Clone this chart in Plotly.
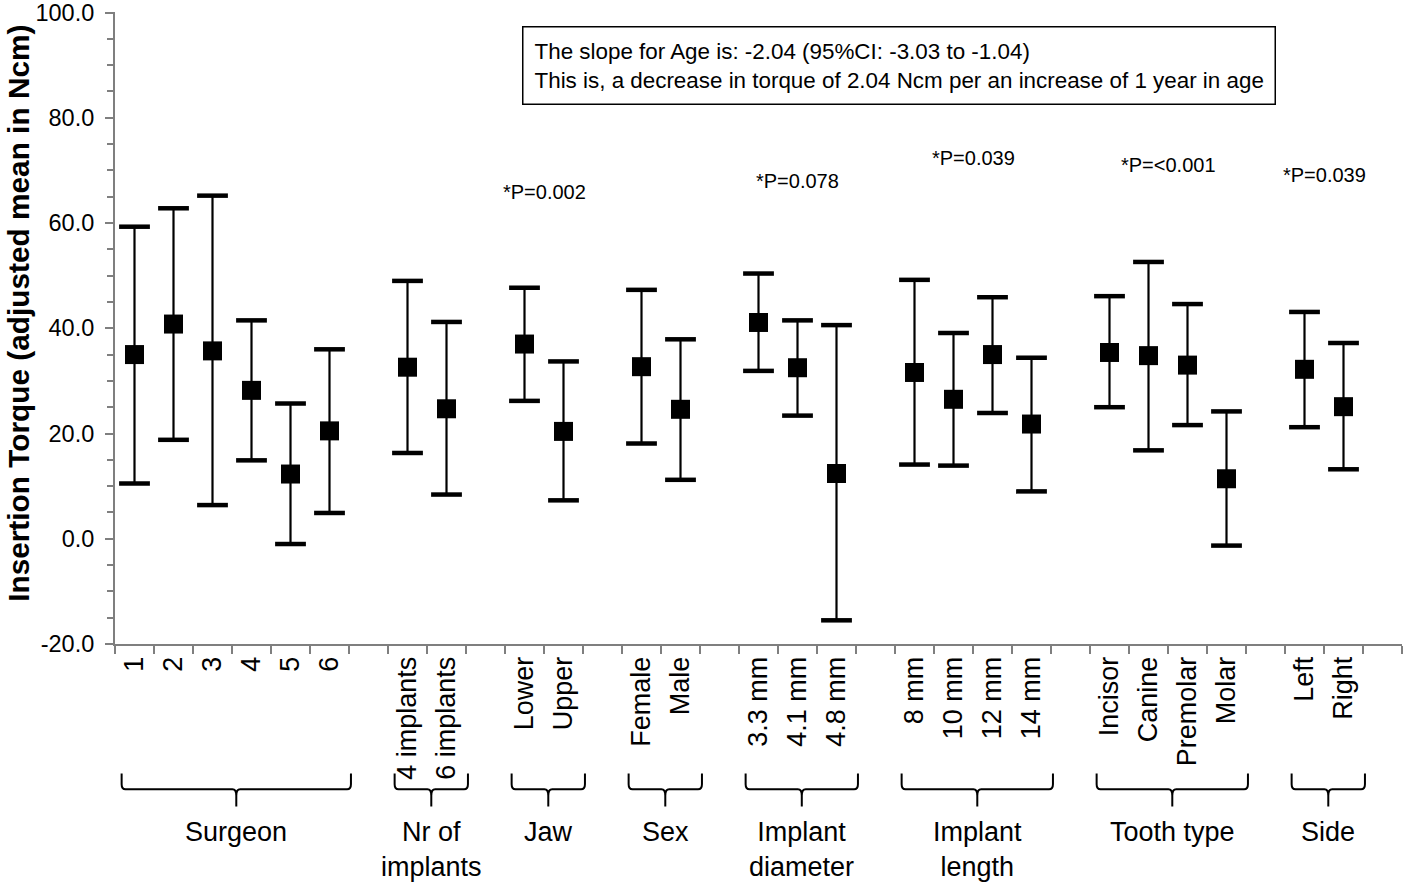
import plotly.graph_objects as go

# --- data ---
groups = ["Surgeon", "Nr of<br>implants", "Jaw", "Sex", "Implant<br>diameter",
          "Implant<br>length", "Tooth type", "Side"]
group_sizes = [6, 2, 2, 2, 3, 4, 4, 2]

labels = ["1", "2", "3", "4", "5", "6",
          "4 implants", "6 implants",
          "Lower", "Upper",
          "Female", "Male",
          "3.3 mm", "4.1 mm", "4.8 mm",
          "8 mm", "10 mm", "12 mm", "14 mm",
          "Incisor", "Canine", "Premolar", "Molar",
          "Left", "Right"]
means = [35.0, 40.8, 35.7, 28.2, 12.3, 20.5,
         32.6, 24.7,
         37.0, 20.4,
         32.7, 24.6,
         41.1, 32.5, 12.4,
         31.6, 26.5, 35.0, 21.8,
         35.4, 34.8, 33.0, 11.4,
         32.2, 25.1]
ci_low = [10.5, 18.8, 6.4, 14.9, -1.0, 4.9,
          16.3, 8.4,
          26.2, 7.3,
          18.1, 11.2,
          31.9, 23.4, -15.5,
          14.1, 13.9, 23.9, 9.0,
          25.0, 16.8, 21.6, -1.3,
          21.2, 13.2]
ci_high = [59.3, 62.8, 65.2, 41.5, 25.7, 36.0,
           49.0, 41.2,
           47.7, 33.7,
           47.3, 37.9,
           50.4, 41.5, 40.6,
           49.2, 39.1, 45.9, 34.4,
           46.1, 52.6, 44.6, 24.2,
           43.1, 37.2]

y_ticks = [-20, 0, 20, 40, 60, 80, 100]
y_ticktext = ["-20.0", "0.0", "20.0", "40.0", "60.0", "80.0", "100.0"]

p_groups = ["Jaw", "Implant<br>diameter", "Implant<br>length", "Tooth type", "Side"]
p_text = ["*P=0.002", "*P=0.078", "*P=0.039", "*P=<0.001", "*P=0.039"]
p_y = [65.9, 68.0, 72.3, 71.0, 69.1]

note = ("The slope for Age is: -2.04 (95%CI: -3.03 to -1.04)<br>"
        "This is, a decrease in torque of 2.04 Ncm per an increase of 1 year in age")

FONT = "Liberation Sans, Arial, sans-serif"
AXIS_GREY = "#7f7f7f"

# x slots: one empty slot between groups
xpos, group_span = [], {}
slot = 0
for g, n in zip(groups, group_sizes):
    xs = list(range(slot, slot + n))
    xpos.extend(xs)
    group_span[g] = (xs[0], xs[-1])
    slot += n + 1
n_slots = slot - 1

err_up = [h - m for h, m in zip(ci_high, means)]
err_dn = [m - l for m, l in zip(means, ci_low)]

fig = go.Figure()
# whiskers
fig.add_trace(go.Scatter(
    x=xpos, y=means, mode="markers",
    marker=dict(size=1, color="rgba(0,0,0,0)"),
    error_y=dict(type="data", symmetric=False, array=err_up, arrayminus=err_dn,
                 color="black", thickness=2.2, width=0),
    showlegend=False, cliponaxis=False,
))
# thick caps
fig.add_trace(go.Scatter(
    x=xpos + xpos, y=ci_high + ci_low, mode="markers",
    marker=dict(symbol="line-ew", size=22, line=dict(color="black", width=4.5)),
    showlegend=False, cliponaxis=False,
))
# means
fig.add_trace(go.Scatter(
    x=xpos, y=means, mode="markers",
    marker=dict(symbol="square", size=19, color="black"),
    showlegend=False, cliponaxis=False,
))

shapes, annotations = [], []
y_top, y_bar, y_tip = -0.205, -0.23, -0.257
for g in groups:
    a, b = group_span[g]
    x0, x1 = a - 0.33, b + 0.55
    xm = (x0 + x1) / 2
    r = 0.1
    path = (f"M {x0},{y_top} L {x0},{y_bar + 0.008} Q {x0},{y_bar} {x0 + r},{y_bar} "
            f"L {xm - r},{y_bar} Q {xm},{y_bar} {xm},{y_bar - 0.01} L {xm},{y_tip} "
            f"M {xm},{y_bar - 0.01} Q {xm},{y_bar} {xm + r},{y_bar} "
            f"L {x1 - r},{y_bar} Q {x1},{y_bar} {x1},{y_bar + 0.008} L {x1},{y_top}")
    shapes.append(dict(type="path", path=path, xref="x", yref="paper",
                       line=dict(color="black", width=2)))
    annotations.append(dict(x=xm, y=-0.271, xref="x", yref="paper", text=g,
                            showarrow=False, yanchor="top", xanchor="center",
                            font=dict(family=FONT, size=27, color="black")))

for g, t, yv in zip(p_groups, p_text, p_y):
    a, b = group_span[g]
    annotations.append(dict(x=(a + b) / 2, y=yv, xref="x", yref="y", text=t,
                            showarrow=False, font=dict(family=FONT, size=20, color="black")))

annotations.append(dict(x=0.316, y=0.978, xref="paper", yref="paper", text=note,
                        showarrow=False, xanchor="left", yanchor="top", align="left",
                        bordercolor="black", borderwidth=1.5, borderpad=11,
                        font=dict(family=FONT, size=22.4, color="black")))

annotations.append(dict(x=-0.0755, y=0.5237, xref="paper", yref="paper",
                        text="<b>Insertion Torque (adjusted mean in Ncm)</b>",
                        textangle=-90, showarrow=False, xanchor="center", yanchor="middle",
                        font=dict(family=FONT, size=29.8, color="black")))

fig.update_layout(
    width=1418, height=884,
    margin=dict(l=115, r=16, t=12, b=240),
    paper_bgcolor="white", plot_bgcolor="white",
    font=dict(family=FONT, color="black"),
    shapes=shapes, annotations=annotations,
    xaxis=dict(
        range=[-0.5, n_slots + 0.5], tickmode="array", tickvals=xpos, ticktext=labels,
        tickangle=-90, ticks="", showgrid=False, zeroline=False, automargin=False,
        showline=True, linecolor=AXIS_GREY, linewidth=2,
        tickfont=dict(family=FONT, size=27, color="black"),
        minor=dict(tick0=-0.5, dtick=1, ticks="outside", ticklen=8,
                   tickcolor=AXIS_GREY, tickwidth=2, showgrid=False),
    ),
    yaxis=dict(
        range=[-20, 100.1], tickmode="array", tickvals=y_ticks, ticktext=y_ticktext,
        ticks="outside", ticklen=8, tickcolor=AXIS_GREY, tickwidth=2,
        ticklabelstandoff=6, automargin=False, ticklabeloverflow="allow",
        showgrid=False, zeroline=False, showline=True, linecolor=AXIS_GREY, linewidth=2,
        tickfont=dict(family=FONT, size=23.5, color="black"),
        minor=dict(dtick=5, tick0=0, ticks="outside", ticklen=6, tickcolor=AXIS_GREY,
                   tickwidth=2, showgrid=False),
    ),
)

fig.write_html("out.html", config={"displayModeBar": False},
               post_script="document.body.style.margin='0';")
